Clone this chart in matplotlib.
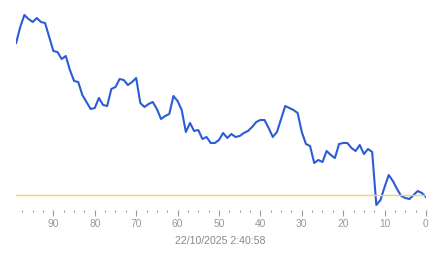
import numpy as np
import matplotlib
matplotlib.use('Agg')
import matplotlib.pyplot as plt
from matplotlib.ticker import MultipleLocator

# x = ages (99 .. 0), y = values
ages = list(range(99, -1, -1))
values = [167, 183, 195, 191, 188, 192, 188, 187, 173, 159,
          158, 151, 154, 140, 129, 128, 115, 108, 101, 102,
          112, 105, 104, 121, 123, 131, 130, 125, 128, 132,
          107, 103, 106, 108, 101, 91, 94, 96, 114, 109,
          100, 78, 87, 79, 80, 71, 73, 67, 67, 70,
          77, 72, 76, 73, 74, 77, 79, 83, 88, 90,
          90, 82, 73, 78, 91, 104, 102, 100, 97, 78,
          66, 64, 47, 50, 48, 59, 55, 52, 66, 67,
          67, 62, 59, 65, 56, 61, 58, 5, 10, 23,
          35, 29, 21, 14, 12, 11, 15, 19, 17, 13]
threshold = 15
timestamp = "22/10/2025 2:40:58"

W, H = 443, 258
fig = plt.figure(figsize=(W / 100, H / 100), dpi=100)
fig.set_facecolor('white')
ax = fig.add_axes([16.1 / W, (H - 210) / H, (426 - 16.1) / W, 200 / H])

ax.plot(ages, values, color='#2a5cd9', linewidth=1.5, solid_joinstyle='round')
ax.axhline(threshold, color='#f0d468', linewidth=1.0)

ax.set_xlim(99, 0)
ax.set_ylim(0, 200)
for s in ax.spines.values():
    s.set_visible(False)
ax.set_yticks([])
ax.xaxis.set_major_locator(MultipleLocator(10))
ax.xaxis.set_minor_locator(MultipleLocator(2.5))
ax.tick_params(axis='x', which='major', length=4, width=0.8, color='#9a9a9a',
               labelcolor='#999999', labelsize=7.4, pad=2.5)
ax.tick_params(axis='x', which='minor', length=1.6, width=0.8, color='#9a9a9a')
for lab in ax.get_xticklabels():
    lab.set_family('Liberation Sans')

fig.text(220 / W, 1 - 241 / H, timestamp, ha='center', va='center',
         color='#888888', fontsize=7.6, family='Liberation Sans')

plt.savefig('out.png', dpi=100)
